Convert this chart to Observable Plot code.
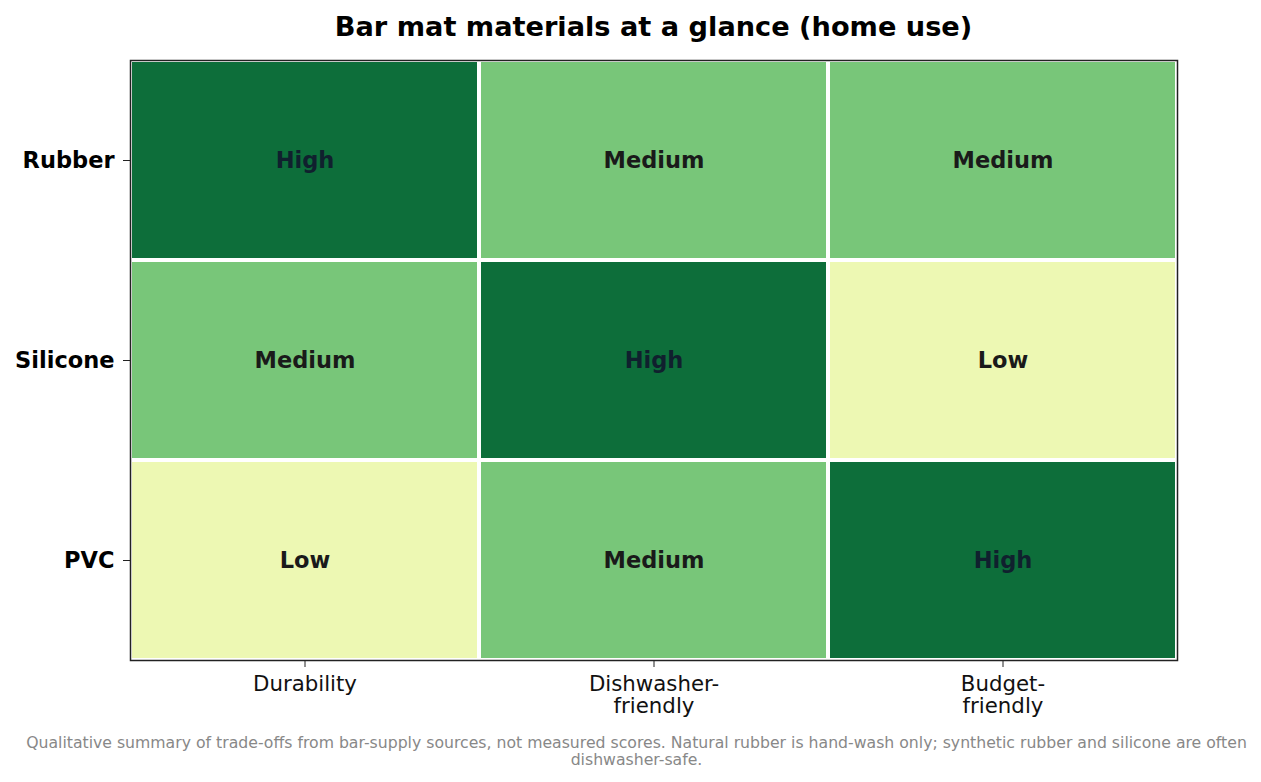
<!DOCTYPE html>
<html>
<head>
<meta charset="utf-8">
<script src="https://cdn.jsdelivr.net/npm/d3@7"></script>
<script src="https://cdn.jsdelivr.net/npm/@observablehq/plot@0.6"></script>
<style>
  html, body { margin: 0; padding: 0; background: #fff; }
  body { width: 1261px; height: 782px; position: relative; overflow: hidden; font-family: "DejaVu Sans", sans-serif; }
  #title { position: absolute; left: 130px; width: 1047px; top: 9px; text-align: center; font-weight: bold; font-size: 27.2px; line-height: 36px; color: #000; white-space: nowrap; }
  #chart { position: absolute; left: 0; top: 45px; }
  #caption { position: absolute; left: 6px; width: 1261px; top: 734px; text-align: center; font-size: 15.7px; line-height: 17px; color: #888; white-space: nowrap; }
</style>
</head>
<body>
<div id="title">Bar mat materials at a glance (home use)</div>
<div id="chart"></div>
<div id="caption">Qualitative summary of trade-offs from bar-supply sources, not measured scores. Natural rubber is hand-wash only; synthetic rubber and silicone are often<br>dishwasher-safe.</div>
<script>
const materials = ["Rubber", "Silicone", "PVC"];
const criteria = ["Durability", "Dishwasher-friendly", "Budget-friendly"];
const criteriaLabels = ["Durability", "Dishwasher-\nfriendly", "Budget-\nfriendly"];
const rubberRatings = ["High", "Medium", "Medium"];
const siliconeRatings = ["Medium", "High", "Low"];
const pvcRatings = ["Low", "Medium", "High"];
const levels = ["Low", "Medium", "High"];
const levelColors = ["#edf8b3", "#78c679", "#0d6e3a"];

const ratingRows = [rubberRatings, siliconeRatings, pvcRatings];
const data = [];
materials.forEach((m, i) => criteria.forEach((c, j) => data.push({material: m, criterion: c, rating: ratingRows[i][j]})));

const labelMap = new Map(criteria.map((c, i) => [c, criteriaLabels[i]]));

const chart = Plot.plot({
  width: 1261,
  height: 670,
  marginLeft: 130,
  marginRight: 84,
  marginTop: 15,
  marginBottom: 55,
  style: {fontFamily: "DejaVu Sans, sans-serif", background: "#fff", overflow: "visible"},
  x: {domain: criteria, padding: 0, label: null},
  y: {domain: materials, padding: 0, label: null},
  color: {domain: levels, range: levelColors},
  marks: [
    Plot.cell(data, {x: "criterion", y: "material", fill: "rating", inset: 2}),
    Plot.text(data, {x: "criterion", y: "material", text: "rating", fontWeight: "bold", fontSize: 22.5,
      fill: d => d.rating === "High" ? "#10202e" : "#1a1a1a"}),
    Plot.frame({stroke: "#222", strokeWidth: 1.5}),
    Plot.axisX({tickSize: 7, tickPadding: 8, tickFormat: d => labelMap.get(d), fontSize: 21.3, lineHeight: 1.04, stroke: "#222", fill: "#111", label: null}),
    Plot.axisY({tickSize: 7, tickPadding: 9, fontSize: 22.5, fontWeight: "bold", stroke: "#222", fill: "#000", label: null})
  ]
});
document.getElementById("chart").appendChild(chart);
</script>
</body>
</html>
